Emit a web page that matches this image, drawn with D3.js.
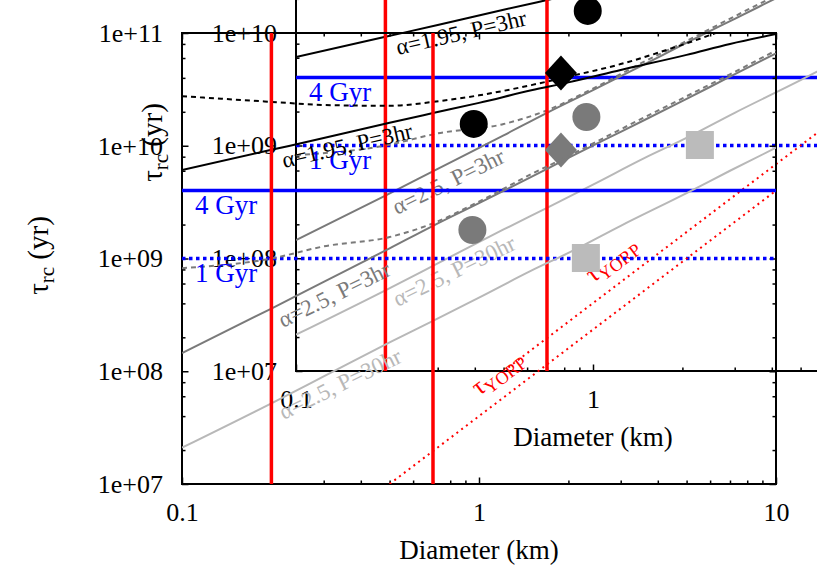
<!DOCTYPE html>
<html>
<head>
<meta charset="utf-8">
<script src="https://cdn.jsdelivr.net/npm/d3@7"></script>
<style>
  body { margin: 0; background: #fff; }
  svg text { font-family: "Liberation Serif", "Times New Roman", serif; }
</style>
</head>
<body>
<svg id="chart" width="817" height="572"></svg>
<script>
var diam = [0.1, 0.2, 0.3, 0.5, 0.7, 1, 1.5, 2, 3, 5, 7, 10];

// tau_rc (yr) for each model
var a195Solid  = [6.1e9, 9.2e9, 1.17e10, 1.6e10, 1.95e10, 2.4e10, 3.1e10, 3.65e10, 4.7e10, 6.4e10, 8.0e10, 9.8e10];
var a195Dashed = [2.75e10, 2.45e10, 2.3e10, 2.26e10, 2.45e10, 2.8e10, 3.45e10, 4.1e10, 5.3e10, 8.1e10, 1.1e11, 1.4e11];
var a25Solid   = [1.45e8, 3.6e8, 6.2e8, 1.23e9, 1.95e9, 3.1e9, 5.3e9, 7.8e9, 1.33e10, 2.6e10, 4.1e10, 6.6e10];
var a25Dashed  = [8.2e8, 1.0e9, 1.28e9, 1.55e9, 2.05e9, 3.2e9, 5.6e9, 8.1e9, 1.4e10, 2.75e10, 4.3e10, 7.0e10];
var a25P30     = [2.1e7, 5.2e7, 9.0e7, 1.8e8, 2.8e8, 4.5e8, 7.8e8, 1.12e9, 1.95e9, 3.8e9, 6.0e9, 9.6e9];

// YORP timescale
var yorpDiam = [0.5, 1, 2, 5, 10];
var yorpTau  = [1e7, 4e7, 1.6e8, 1e9, 4e9];

// reference lines
var ageLines = [4e9, 1e9];          // 4 Gyr solid, 1 Gyr dotted
var ageLabels = ["4 Gyr", "1 Gyr"];
var diamLines = [0.2, 0.7];

// observed points
var blackCircles = [[0.96, 1.56e10]];
var grayCircles  = [[0.95, 1.79e9]];
var graySquares  = [[2.29, 1.01e9]];
var blackDiamonds = [[0.78, 4.4e9]];
var grayDiamonds  = [[0.78, 9.1e8]];

var xMajor = [0.1, 1, 10];
var xTickLabels = ["0.1", "1", "10"];
var xMinor = [0.2,0.3,0.4,0.5,0.6,0.7,0.8,0.9,2,3,4,5,6,7,8,9];
var yMajor = [1e7, 1e8, 1e9, 1e10, 1e11];
var yTickLabels = ["1e+07", "1e+08", "1e+09", "1e+10", "1e+11"];
var yMinor = [];
[1e7, 1e8, 1e9, 1e10].forEach(function(d) { [2,4,6,8].forEach(function(m) { yMinor.push(d * m); }); });

var svg = d3.select("#chart");
var W = 594, H = 451;

function pair(xs, ys) { return xs.map(function(d, i) { return [d, ys[i]]; }); }

function drawPanel(x0, y0, id, withDiamonds) {
  var x = d3.scaleLog().domain([0.1, 10]).range([x0, x0 + W]);
  var y = d3.scaleLog().domain([1e7, 1e11]).range([y0, y0 - H]);
  var g = svg.append("g");

  svg.append("clipPath").attr("id", id)
    .append("rect").attr("x", x0).attr("y", y0 - H).attr("width", W).attr("height", H);

  // ticks
  function ax(gen, tx, ty, vals, size, labels, pad) {
    var a = gen.tickValues(vals).tickSize(size).tickSizeOuter(0).tickPadding(pad || 3)
      .tickFormat(labels ? function(d, i) { return labels[i]; } : "");
    var s = g.append("g").attr("transform", "translate(" + tx + "," + ty + ")").call(a);
    s.select(".domain").remove();
    s.selectAll("line").attr("stroke", "#000").attr("stroke-width", 1.5);
    s.selectAll("text").attr("font-family", "Liberation Serif, serif").attr("font-size", 26).attr("fill", "#000");
    // labels that fall outside the page are dropped
    s.selectAll(".tick").filter(function(d) {
      var px = ty ? x(d) : tx, py = ty ? ty : y(d);
      return px > 817 || py < 0;
    }).select("text").remove();
  }
  ax(d3.axisBottom(x), 0, y0, xMajor, -6.5, xTickLabels, 19);
  ax(d3.axisBottom(x), 0, y0, xMinor, -3.5);
  ax(d3.axisTop(x), 0, y0 - H, xMajor, -6.5);
  ax(d3.axisTop(x), 0, y0 - H, xMinor, -3.5);
  ax(d3.axisLeft(y), x0, 0, yMajor, -6.5, yTickLabels, 19);
  ax(d3.axisLeft(y), x0, 0, yMinor, -3.5);
  ax(d3.axisRight(y), x0 + W, 0, yMajor, -6.5);
  ax(d3.axisRight(y), x0 + W, 0, yMinor, -3.5);

  g.append("rect").attr("x", x0).attr("y", y0 - H).attr("width", W).attr("height", H)
    .attr("fill", "none").attr("stroke", "#000").attr("stroke-width", 2);

  // axis titles
  g.append("text").attr("x", x0 + W / 2).attr("y", y0 + 75).attr("text-anchor", "middle")
    .attr("font-size", 27).text("Diameter (km)");
  var yl = g.append("text").attr("transform", "translate(" + (x0 - 134) + "," + (y0 - H / 2 - 3) + ") rotate(-90)")
    .attr("text-anchor", "middle").attr("font-size", 29);
  yl.append("tspan").text("τ");
  yl.append("tspan").attr("font-size", 21).attr("dy", 6).text("rc");
  yl.append("tspan").attr("dy", -6).text(" (yr)");

  var p = g.append("g").attr("clip-path", "url(#" + id + ")");
  var line = d3.line().x(function(d) { return x(d[0]); }).y(function(d) { return y(d[1]); })
    .curve(d3.curveMonotoneX);

  // age lines
  p.selectAll(".age").data(ageLines).enter().append("line")
    .attr("x1", x(0.1)).attr("x2", x(10))
    .attr("y1", function(d) { return y(d); }).attr("y2", function(d) { return y(d); })
    .attr("stroke", "#0000ff").attr("stroke-width", 3.5)
    .attr("stroke-dasharray", function(d, i) { return i == 1 ? "3.5,3.5" : null; });

  // model curves
  var curves = [
    {v: a195Solid, c: "#000", dash: null},
    {v: a195Dashed, c: "#000", dash: "5,4"},
    {v: a25Solid, c: "#7a7a7a", dash: null},
    {v: a25Dashed, c: "#7a7a7a", dash: "5,4"},
    {v: a25P30, c: "#b8b8b8", dash: null}
  ];
  curves.forEach(function(cv) {
    p.append("path").datum(pair(diam, cv.v)).attr("d", line)
      .attr("fill", "none").attr("stroke", cv.c).attr("stroke-width", 2)
      .attr("stroke-dasharray", cv.dash);
  });

  p.append("path").datum(pair(yorpDiam, yorpTau)).attr("d", line)
    .attr("fill", "none").attr("stroke", "#ff0000").attr("stroke-width", 2)
    .attr("stroke-dasharray", "2,4");

  p.selectAll(".dl").data(diamLines).enter().append("line")
    .attr("x1", function(d) { return x(d); }).attr("x2", function(d) { return x(d); })
    .attr("y1", y(1e7)).attr("y2", y(1e11))
    .attr("stroke", "#ff0000").attr("stroke-width", 3.5);

  // labels
  g.selectAll(".agel").data(ageLabels).enter().append("text")
    .attr("x", x(0.1106)).attr("y", function(d, i) { return y(ageLines[i]) + 23; })
    .attr("font-size", 27).attr("fill", "#0000ff").text(function(d) { return d; });

  function rotLabel(d, t, ang, color, txt) {
    g.append("text").attr("transform", "translate(" + x(d) + "," + y(t) + ") rotate(" + ang + ")")
      .attr("font-size", 23).attr("fill", color).text(txt);
  }
  rotLabel(0.2206, 6.35e9, -13, "#000", "α=1.95, P=3hr");
  rotLabel(0.219, 2.42e8, -26, "#7a7a7a", "α=2.5, P=3hr");
  rotLabel(0.22, 3.7e7, -26, "#b8b8b8", "α=2.5, P=30hr");

  var yo = g.append("text").attr("transform", "translate(" + x(1.0) + "," + y(6.0e7) + ") rotate(-37)")
    .attr("font-size", 25).attr("fill", "#ff0000");
  yo.append("tspan").text("τ");
  yo.append("tspan").attr("font-size", 18).attr("dy", 5).text("YORP");

  // points
  function circles(data, color) {
    g.selectAll(null).data(data).enter().append("circle")
      .attr("cx", function(d) { return x(d[0]); }).attr("cy", function(d) { return y(d[1]); })
      .attr("r", 14).attr("fill", color);
  }
  circles(blackCircles, "#000");
  circles(grayCircles, "#7a7a7a");
  g.selectAll(null).data(graySquares).enter().append("rect")
    .attr("x", function(d) { return x(d[0]) - 14; }).attr("y", function(d) { return y(d[1]) - 14; })
    .attr("width", 28).attr("height", 28).attr("fill", "#bbbbbb");
  if (withDiamonds) {
    var dia = "M0,-17.5L16,0L0,17.5L-16,0Z";
    [[blackDiamonds, "#000"], [grayDiamonds, "#7a7a7a"]].forEach(function(s) {
      g.selectAll(null).data(s[0]).enter().append("path")
        .attr("transform", function(d) { return "translate(" + x(d[0]) + "," + y(d[1]) + ")"; })
        .attr("d", dia).attr("fill", s[1]);
    });
  }
}

drawPanel(296, 371, "clipInner", true);
drawPanel(182, 484, "clipOuter", false);
</script>
</body>
</html>
